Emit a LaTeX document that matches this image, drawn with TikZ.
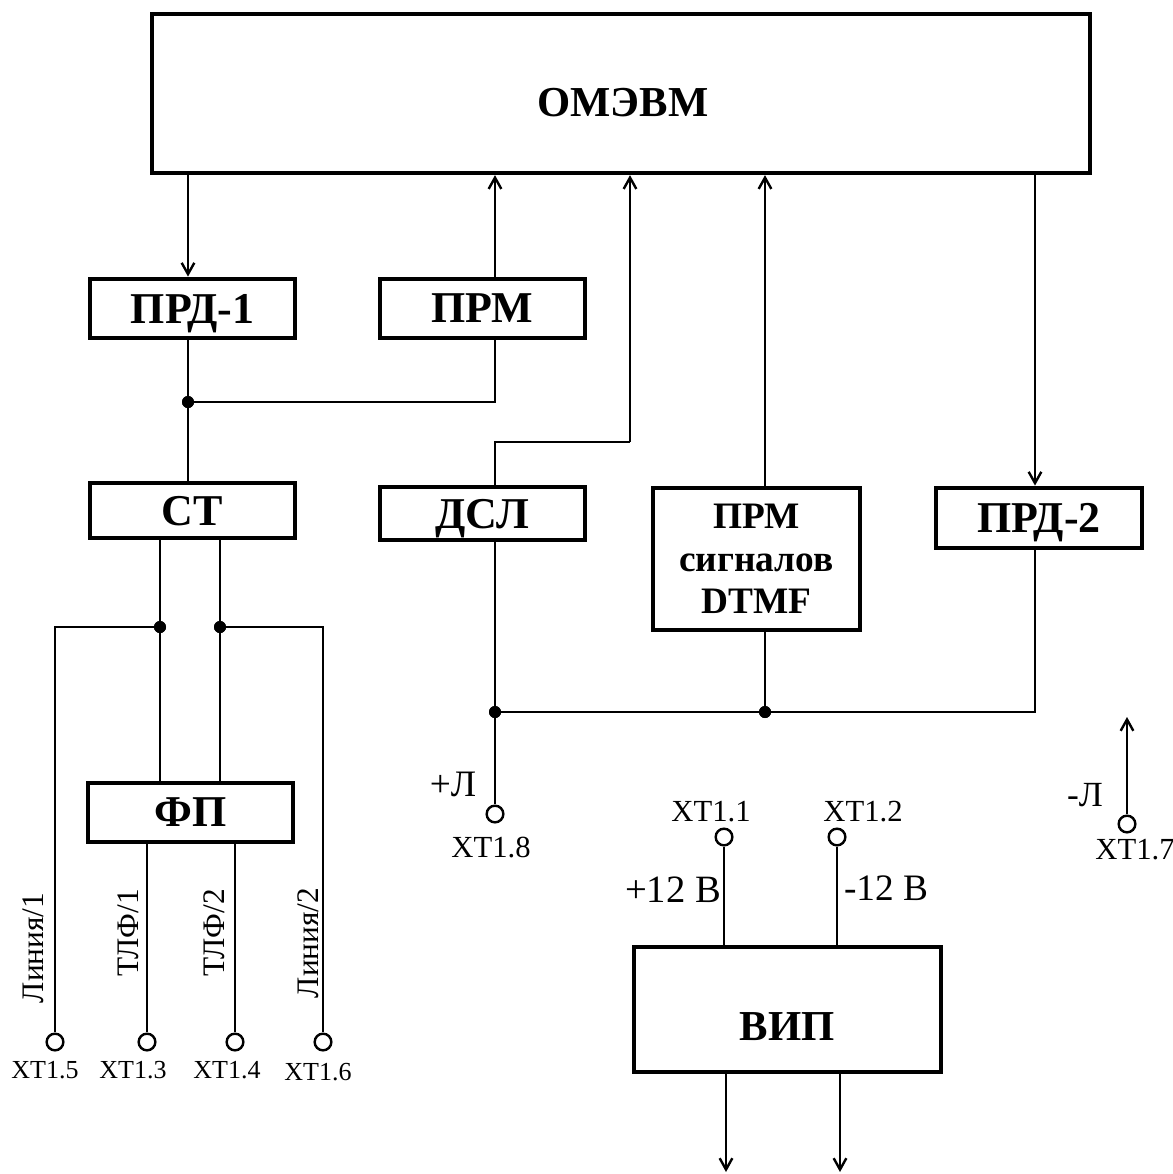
\documentclass[tikz,border=0pt]{standalone}
\usepackage{fontspec}
\setmainfont{Liberation Serif}
\usetikzlibrary{arrows.meta,calc}
\begin{document}
\begin{tikzpicture}[x=0.75pt,y=-0.75pt,
  blk/.style={draw,line width=3.6pt,inner sep=0pt,align=center,font=\bfseries\fontsize{33}{38}\selectfont},
  one/.style={text depth=0pt},
  wire/.style={line width=1.5pt},
  arr/.style={line width=2pt,-{Straight Barb[length=8.5pt,width=9.5pt,line width=1.8pt]}},
  term/.style={draw,circle,line width=1.8pt,fill=white,minimum size=12.5pt,inner sep=0pt},
  jdot/.style={fill,circle,minimum size=9pt,inner sep=0pt},
  lbl/.style={inner sep=0pt,font=\fontsize{23}{27}\selectfont},
  slbl/.style={inner sep=0pt,font=\fontsize{19.5}{23}\selectfont},
  blbl/.style={inner sep=0pt,font=\fontsize{28}{32}\selectfont},
  rlbl/.style={inner sep=0pt,rotate=90,font=\fontsize{23.5}{27}\selectfont}]
\useasboundingbox (0,0) rectangle (1173,1174);

% blocks
\node[blk,line width=3.2pt,minimum width=938*0.75pt,minimum height=159*0.75pt] (omevm) at (621,93.5) {};
\node[inner sep=0pt,font=\bfseries\fontsize{32}{36}\selectfont] (omevmt) at (623,103) {ОМЭВМ};
\node[blk,one,minimum width=205*0.75pt,minimum height=59*0.75pt] (prd1) at (192.5,308.5) {ПРД-1};
\node[blk,one,minimum width=205*0.75pt,minimum height=59*0.75pt] (prm) at (482.5,308.5) {ПРМ};
\node[blk,one,minimum width=205*0.75pt,minimum height=55*0.75pt] (st) at (192.5,510.5) {СТ};
\node[blk,one,minimum width=205*0.75pt,minimum height=59*0.75pt] (fp) at (190.5,812.5) {ФП};
\node[blk,one,minimum width=205*0.75pt,minimum height=53*0.75pt] (dsl) at (482.5,513.5) {ДСЛ};
\node[blk,minimum width=207*0.75pt,minimum height=142*0.75pt,font=\bfseries\fontsize{28}{32}\selectfont] (dtmf) at (756.5,559) {ПРМ\\сигналов\\DTMF};
\node[blk,one,minimum width=206*0.75pt,minimum height=60*0.75pt] (prd2) at (1039,518) {ПРД-2};
\node[blk,minimum width=307*0.75pt,minimum height=125*0.75pt] (vip) at (787.5,1009.5) {};
\node[inner sep=0pt,font=\bfseries\fontsize{32}{36}\selectfont] (vipt) at (787,1027) {ВИП};

% column coordinates
\coordinate (x188) at (188,0);
\coordinate (x495) at (495,0);
\coordinate (x630) at (630,0);
\coordinate (x765) at (765,0);
\coordinate (x1035) at (1035,0);
\coordinate (x160) at (160,0);
\coordinate (x220) at (220,0);
\coordinate (x147) at (147,0);
\coordinate (x235) at (235,0);
\coordinate (x724) at (724,0);
\coordinate (x837) at (837,0);

% junction points
\node[jdot] (j1) at (188,402) {};
\node[jdot] (j2) at (160,627) {};
\node[jdot] (j3) at (220,627) {};
\node[jdot] (j4) at (495,712) {};
\node[jdot] (j5) at (765,712) {};
\coordinate (k1) at (55,627);
\coordinate (k2) at (323,627);
\coordinate (k3) at (495,442);
\coordinate (k4) at (630,442);
\coordinate (k5) at (1035,712);
\coordinate (o1) at (726,1172);
\coordinate (o2) at (840,1172);
\coordinate (o3) at (1127,717);

% terminals
\node[term] (t15) at (55,1042) {};
\node[term] (t13) at (147,1042) {};
\node[term] (t14) at (235,1042) {};
\node[term] (t16) at (323,1042) {};
\node[term] (t18) at (495,814) {};
\node[term] (t11) at (724,837) {};
\node[term] (t12) at (837,837) {};
\node[term] (t17) at (1127,824) {};

% connectors, top part
\draw[arr] (omevm.south -| x188) -- (prd1.north -| x188);
\draw[arr] (prm.north -| x495) -- (omevm.south -| x495);
\draw[wire] (prd1.south -| x188) -- (st.north -| x188);
\draw[wire] (j1) -- (j1 -| x495) -- (prm.south -| x495);
\draw[wire] (st.south -| x160) -- (fp.north -| x160);
\draw[wire] (st.south -| x220) -- (fp.north -| x220);
\draw[wire] (j2) -- (k1) -- (t15);
\draw[wire] (j3) -- (k2) -- (t16);
\draw[wire] (fp.south -| x147) -- (t13);
\draw[wire] (fp.south -| x235) -- (t14);

\draw[wire] (dsl.north -| x495) -- (k3) -- (k4);
\draw[arr] (k4) -- (omevm.south -| x630);
\draw[arr] (dtmf.north -| x765) -- (omevm.south -| x765);
\draw[arr] (omevm.south -| x1035) -- (prd2.north -| x1035);

% bus
\draw[wire] (dsl.south -| x495) -- (t18);
\draw[wire] (dtmf.south -| x765) -- (j5);
\draw[wire] (prd2.south -| x1035) -- (k5) -- (j4);

% power
\draw[wire] (t11) -- (vip.north -| x724);
\draw[wire] (t12) -- (vip.north -| x837);
\draw[arr] (vip.south -| o1) -- (o1);
\draw[arr] (vip.south -| o2) -- (o2);
\draw[arr] (t17) -- (o3);

% redraw dots on top
\node[jdot] at (j1) {};
\node[jdot] at (j2) {};
\node[jdot] at (j3) {};
\node[jdot] at (j4) {};
\node[jdot] at (j5) {};

% labels
\node[rlbl] (l1) at (33,948) {Линия/1};
\node[rlbl] (l2) at (128,933) {ТЛФ/1};
\node[rlbl] (l3) at (214,933) {ТЛФ/2};
\node[rlbl] (l4) at (308,943) {Линия/2};
\node[slbl] (n15) at (45,1070) {XT1.5};
\node[slbl] (n13) at (133,1070) {XT1.3};
\node[slbl] (n14) at (227,1070) {XT1.4};
\node[slbl] (n16) at (318,1072) {XT1.6};
\node[blbl] (pl) at (453,784) {+Л};
\node[lbl] (n18) at (491,848) {XT1.8};
\node[lbl] (n11) at (711,812) {XT1.1};
\node[lbl] (n12) at (863,812) {XT1.2};
\node[blbl,font=\fontsize{29}{33}\selectfont] (p12) at (673,890) {+12 В};
\node[blbl] (m12) at (886,888) {-12 В};
\node[blbl,font=\fontsize{26.5}{30}\selectfont] (ml) at (1085,795) {-Л};
\node[lbl] (n17) at (1135,850) {XT1.7};
\end{tikzpicture}
\end{document}
